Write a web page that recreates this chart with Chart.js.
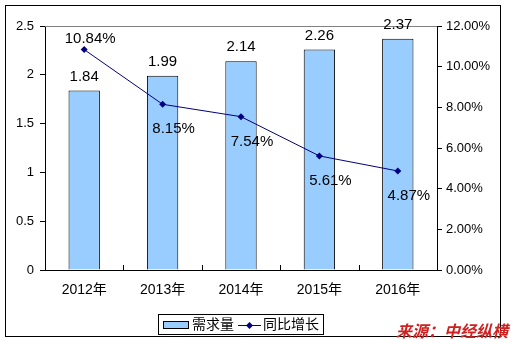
<!DOCTYPE html>
<html>
<head>
<meta charset="utf-8">
<script src="https://cdn.jsdelivr.net/npm/chart.js@4.4.1/dist/chart.umd.min.js"></script>
<style>
  body { margin: 0; background: #fff; }
  canvas { display: block; }
</style>
</head>
<body>
<canvas id="myChart" width="518" height="345"></canvas>
<script>
const years = ["2012年", "2013年", "2014年", "2015年", "2016年"];
const demand = [1.84, 1.99, 2.14, 2.26, 2.37];
const growth = [10.84, 8.15, 7.54, 5.61, 4.87];
const leftTicks = [0, 0.5, 1, 1.5, 2, 2.5];
const rightTicks = [0, 2, 4, 6, 8, 10, 12];

const FONT = "'Liberation Sans', 'Noto Sans CJK SC', sans-serif";

// labels, frame, legend box and source note
const extras = {
  id: "extras",
  afterDraw(chart) {
    const ctx = chart.ctx;
    const area = chart.chartArea;
    const x = chart.scales.x;
    ctx.save();

    // top edge of plot area
    ctx.strokeStyle = "#808080";
    ctx.lineWidth = 1;
    ctx.beginPath();
    ctx.moveTo(area.left, area.top + 0.5);
    ctx.lineTo(area.right, area.top + 0.5);
    ctx.stroke();

    // inward tick marks between categories
    ctx.strokeStyle = "#000";
    ctx.beginPath();
    const step = (area.right - area.left) / years.length;
    for (let i = 1; i < years.length; i++) {
      const px = Math.round(x.getPixelForValue(i) - step / 2) + 0.5;
      ctx.moveTo(px, area.bottom);
      ctx.lineTo(px, area.bottom - 5);
    }
    ctx.stroke();

    // bar value labels
    ctx.fillStyle = "#000";
    ctx.font = "15px " + FONT;
    ctx.textAlign = "center";
    ctx.textBaseline = "middle";
    chart.getDatasetMeta(0).data.forEach((bar, i) => {
      ctx.fillText(demand[i].toFixed(2), bar.x, bar.y - 14);
    });

    // line value labels
    chart.getDatasetMeta(1).data.forEach((pt, i) => {
      const txt = growth[i].toFixed(2) + "%";
      if (i === 0) ctx.fillText(txt, pt.x + 6, pt.y - 11);
      else ctx.fillText(txt, pt.x + 11, pt.y + 25);
    });

    // outer frame
    ctx.strokeStyle = "#000";
    ctx.strokeRect(5.5, 5.5, 495, 331);

    // legend
    ctx.fillStyle = "#fff";
    ctx.fillRect(158, 314, 165, 20);
    ctx.strokeRect(158.5, 314.5, 165, 20);
    ctx.fillStyle = "#99CCFF";
    ctx.fillRect(163, 321, 25, 8);
    ctx.strokeRect(163.5, 321.5, 25, 7);
    ctx.fillStyle = "#000";
    ctx.font = "14px " + FONT;
    ctx.textAlign = "left";
    ctx.fillText("需求量", 192, 325);
    ctx.strokeStyle = "#000080";
    ctx.beginPath();
    ctx.moveTo(238, 325.5);
    ctx.lineTo(261, 325.5);
    ctx.stroke();
    ctx.fillStyle = "#000080";
    ctx.beginPath();
    ctx.moveTo(249.5, 322);
    ctx.lineTo(253, 325.5);
    ctx.lineTo(249.5, 329);
    ctx.lineTo(246, 325.5);
    ctx.closePath();
    ctx.fill();
    ctx.fillStyle = "#000";
    ctx.fillText("同比增长", 263, 325);

    // source note
    ctx.fillStyle = "#D02020";
    ctx.font = "italic bold 16px 'Noto Sans CJK SC', sans-serif";
    ctx.textAlign = "left";
    ctx.textBaseline = "alphabetic";
    ctx.fillText("来源：中经纵横", 396, 337);
    ctx.restore();
  }
};

new Chart(document.getElementById("myChart"), {
  data: {
    labels: years,
    datasets: [
      {
        type: "bar",
        label: "需求量",
        data: demand,
        yAxisID: "y",
        backgroundColor: "#99CCFF",
        borderColor: "#000",
        borderWidth: 1,
        categoryPercentage: 0.4,
        barPercentage: 1,
        order: 2
      },
      {
        type: "line",
        label: "同比增长",
        data: growth,
        yAxisID: "y1",
        borderColor: "#000080",
        backgroundColor: "#000080",
        borderWidth: 1,
        pointStyle: "rectRot",
        pointRadius: 3.5,
        pointBorderWidth: 0,
        tension: 0,
        order: 1
      }
    ]
  },
  options: {
    responsive: false,
    animation: false,
    layout: { padding: { top: 26, left: 0, right: 0, bottom: 0 } },
    plugins: {
      legend: { display: false },
      tooltip: { enabled: false }
    },
    scales: {
      x: {
        grid: { drawOnChartArea: false, drawTicks: false },
        border: { color: "#000" },
        ticks: { color: "#000", font: { size: 14, family: FONT }, padding: 12 },
        afterFit: (s) => { s.height = 75; }
      },
      y: {
        position: "left",
        min: 0,
        max: 2.5,
        afterBuildTicks: (s) => { s.ticks = leftTicks.map((v) => ({ value: v })); },
        grid: { drawOnChartArea: false, tickLength: 5, color: "#000" },
        border: { color: "#000" },
        ticks: { color: "#000", font: { size: 13, family: FONT }, padding: 6, callback: (v) => String(v) },
        afterFit: (s) => { s.width = 45; }
      },
      y1: {
        position: "right",
        min: 0,
        max: 12,
        afterBuildTicks: (s) => { s.ticks = rightTicks.map((v) => ({ value: v })); },
        grid: { drawOnChartArea: false, tickLength: 5, color: "#000" },
        border: { color: "#000" },
        ticks: { color: "#000", font: { size: 13, family: FONT }, padding: 4, callback: (v) => v.toFixed(2) + "%" },
        afterFit: (s) => { s.width = 81; }
      }
    }
  },
  plugins: [extras]
});
</script>
</body>
</html>
